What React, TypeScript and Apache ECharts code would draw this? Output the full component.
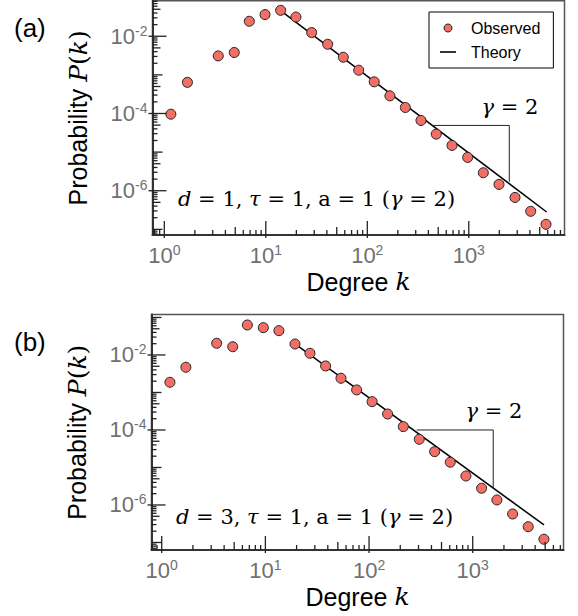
import React, { useEffect, useRef } from 'react';
import * as echarts from 'echarts';

// Panel (a): d = 1
const kA = [1.16, 1.69, 3.4, 4.89, 6.88, 9.82, 14.0, 19.8, 28.3, 40.7, 58.0, 82.3, 117, 167, 237, 338, 478, 683, 975, 1390, 1985, 2853, 4074, 5766];
const pA = [9.6e-5, 6.4e-4, 3.1e-3, 3.8e-3, 0.0244, 0.0364, 0.047, 0.0315, 0.01247, 6.2e-3, 2.86e-3, 1.32e-3, 6.6e-4, 2.86e-4, 1.43e-4, 6.6e-5, 2.92e-5, 1.49e-5, 7.3e-6, 2.92e-6, 1.46e-6, 6.7e-7, 2.93e-7, 1.35e-7];
const theoryKA = [14.0, 5850];
const theoryPA = [0.046, 2.81e-7];
const slopeKA = [447, 2506, 2506];
const slopePA = [4.91e-5, 4.91e-5, 1.71e-6];

// Panel (b): d = 3
const kB = [1.2, 1.71, 3.39, 4.84, 6.7, 9.55, 13.5, 19.3, 26.9, 38.1, 53.6, 75.9, 107, 151, 214, 305, 429, 607, 860, 1218, 1711, 2426, 3430, 4860];
const pB = [1.87e-3, 4.7e-3, 0.0205, 0.0166, 0.063, 0.0535, 0.0445, 0.0196, 0.0111, 5.1e-3, 2.39e-3, 1.17e-3, 5.7e-4, 2.67e-4, 1.23e-4, 5.65e-5, 2.64e-5, 1.38e-5, 5.93e-6, 2.79e-6, 1.36e-6, 5.75e-7, 2.64e-7, 1.22e-7];
const theoryKB = [19.3, 4870];
const theoryPB = [0.0197, 2.93e-7];
const slopeKB = [288, 1577, 1577];
const slopePB = [1.0e-4, 1.0e-4, 2.79e-6];

const xRangeA = [0.765, 8770];
const yRangeA = [7.14e-8, 0.0828];
const xRangeB = [0.797, 7510];
const yRangeB = [6.3e-8, 0.12];

const panelLabels = ['(a)', '(b)'];
const dValues = ['1', '3'];
const seriesNames = ['Observed', 'Theory'];

const SANS = 'Liberation Sans, Arial, sans-serif';
const MATH = 'DejaVu Serif, serif';
const LABEL_GRAY = '#707070';

const zip = (a: number[], b: number[]) => a.map((v, i) => [v, b[i]]);

function makeTicks(xr: number[], yr: number[]) {
  const data: number[][] = [];
  const xm = Math.sqrt(xr[0] * xr[1]);
  const ym = Math.sqrt(yr[0] * yr[1]);
  for (let e = Math.floor(Math.log10(xr[0])); e <= Math.ceil(Math.log10(xr[1])); e++) {
    for (let m = 1; m <= 9; m++) {
      const v = m * Math.pow(10, e);
      if (v <= xr[0] || v >= xr[1]) continue;
      data.push([v, ym, m === 1 ? 14 : m === 5 ? 8 : 5, m === 1 ? 3 : 0, 0]);
    }
  }
  for (let e = Math.floor(Math.log10(yr[0])); e <= Math.ceil(Math.log10(yr[1])); e++) {
    for (let m = 1; m <= 9; m++) {
      const v = m * Math.pow(10, e);
      if (v <= yr[0] || v >= yr[1]) continue;
      const major = m === 1;
      const even = Math.abs(e) % 2 === 0;
      data.push([xm, v, major ? (even ? 14 : 10) : m === 5 ? 8 : 5, major && even ? 4 : 0, 1]);
    }
  }
  return data;
}

const labelRich = {
  b: { fontSize: 22, fontFamily: SANS, color: LABEL_GRAY, lineHeight: 25 },
  s: { fontSize: 14, fontFamily: SANS, color: LABEL_GRAY, verticalAlign: 'top', lineHeight: 25, padding: [0, 0, 10, 0] },
};

function fmt(onlyEven: boolean) {
  return (v: number) => {
    const l = Math.log10(v);
    const e = Math.round(l);
    if (Math.abs(l - e) > 1e-6) return '';
    if (onlyEven && Math.abs(e) % 2 !== 0) return '';
    return `{b|10}{s|${e}}`;
  };
}

const nameRich = {
  a: { fontSize: 25, fontFamily: SANS, color: '#000' },
  i: { fontSize: 25, fontFamily: MATH, fontStyle: 'italic', color: '#000' },
  m: { fontSize: 25, fontFamily: MATH, color: '#000' },
};

function xAxisCfg(gi: number, r: number[]) {
  return {
    type: 'log', logBase: 10, gridIndex: gi, min: r[0], max: r[1],
    axisLine: { show: true, onZero: false, lineStyle: { color: '#333', width: 2 } },
    axisTick: { show: false }, splitLine: { show: false },
    axisLabel: { margin: 8, formatter: fmt(false), rich: labelRich },
    name: '{a|Degree }{i|k}', nameLocation: 'middle', nameGap: 34,
    nameTextStyle: { rich: nameRich },
  };
}

function yAxisCfg(gi: number, r: number[]) {
  return {
    type: 'log', logBase: 10, gridIndex: gi, min: r[0], max: r[1],
    axisLine: { show: true, onZero: false, lineStyle: { color: '#333', width: 2 } },
    axisTick: { show: false }, splitLine: { show: false },
    axisLabel: { margin: 5, formatter: fmt(true), rich: labelRich },
    name: '{a|Probability }{i|P}{m|(}{i|k}{m|)}', nameLocation: 'middle', nameGap: 62,
    nameTextStyle: { rich: nameRich },
  };
}

const tickRender = (params: any, api: any) => {
  const cs = params.coordSys;
  const p = api.coord([api.value(0), api.value(1)]);
  const len = api.value(2);
  const out = api.value(3);
  const dir = api.value(4);
  const style = { stroke: '#222', lineWidth: 1.3 };
  if (dir === 0) {
    const yb = cs.y + cs.height;
    return { type: 'line', shape: { x1: p[0], y1: yb + out, x2: p[0], y2: yb - len }, style };
  }
  return { type: 'line', shape: { x1: cs.x - out, y1: p[1], x2: cs.x + len, y2: p[1] }, style };
};

function panelSeries(gi: number, k: number[], p: number[], tk: number[], tp: number[], sk: number[], sp: number[], xr: number[], yr: number[]) {
  return [
    {
      type: 'line', name: seriesNames[1], xAxisIndex: gi, yAxisIndex: gi,
      data: zip(tk, tp), symbol: 'none', itemStyle: { color: '#000' },
      lineStyle: { color: '#000', width: 1.5 }, z: 2, silent: true,
    },
    {
      type: 'line', name: 'slope' + gi, xAxisIndex: gi, yAxisIndex: gi,
      data: zip(sk, sp), symbol: 'none', lineStyle: { color: '#222', width: 1 }, z: 2, silent: true,
    },
    {
      type: 'scatter', name: seriesNames[0], xAxisIndex: gi, yAxisIndex: gi,
      data: zip(k, p), symbol: 'circle', symbolSize: 10,
      itemStyle: { color: '#F26F66', borderColor: '#222', borderWidth: 1, opacity: 1 }, z: 3,
    },
    {
      type: 'custom', name: 'ticks' + gi, xAxisIndex: gi, yAxisIndex: gi,
      data: makeTicks(xr, yr), encode: { x: 0, y: 1 }, renderItem: tickRender, silent: true, z: 4,
    },
  ];
}

function annotationText(d: string) {
  return `{i|d}{r| = ${d}, }{i|τ}{r| = 1, a = 1 (}{i|γ}{r| = 2)}`;
}

const annRich = {
  i: { fontSize: 21, fontFamily: MATH, fontStyle: 'italic', fill: '#000' },
  r: { fontSize: 21, fontFamily: MATH, fill: '#000' },
};

export default function App() {
  const ref = useRef<HTMLDivElement>(null);
  useEffect(() => {
    document.body.style.margin = '0';
    const chart = echarts.init(ref.current!, null, { renderer: 'svg' });
    const option: any = {
      animation: false,
      backgroundColor: '#fff',
      grid: [
        { left: 152.5, top: 0.8, width: 412, height: 234.2, show: true, borderColor: '#555', borderWidth: 1.5, backgroundColor: 'transparent' },
        { left: 151.5, top: 314.5, width: 412, height: 235.5, show: true, borderColor: '#555', borderWidth: 1.5, backgroundColor: 'transparent' },
      ],
      xAxis: [xAxisCfg(0, xRangeA), xAxisCfg(1, xRangeB)],
      yAxis: [yAxisCfg(0, yRangeA), yAxisCfg(1, yRangeB)],
      legend: {
        data: [
          { name: seriesNames[0], icon: 'circle', itemStyle: { color: '#F26F66', borderColor: '#222', borderWidth: 1 } },
          { name: seriesNames[1], icon: 'path://M0 0H20V2H0Z', itemStyle: { color: '#000' } },
        ],
        orient: 'vertical', left: 429, top: 12,
        padding: [8, 13, 8, 11], itemGap: 8, itemWidth: 16, itemHeight: 8,
        borderColor: '#000', borderWidth: 1, backgroundColor: '#fff', borderRadius: 0,
        selectedMode: false,
        textStyle: { fontSize: 16, fontFamily: SANS, color: '#000', padding: [0, 0, 0, 10] },
      },
      series: [
        ...panelSeries(0, kA, pA, theoryKA, theoryPA, slopeKA, slopePA, xRangeA, yRangeA),
        ...panelSeries(1, kB, pB, theoryKB, theoryPB, slopeKB, slopePB, xRangeB, yRangeB),
      ],
      graphic: [
        { type: 'text', x: 14, y: 28, style: { text: panelLabels[0], fontSize: 26, fontFamily: SANS, fill: '#000', verticalAlign: 'middle' } },
        { type: 'text', x: 14, y: 342, style: { text: panelLabels[1], fontSize: 26, fontFamily: SANS, fill: '#000', verticalAlign: 'middle' } },
        { type: 'text', x: 178, y: 199, z: 10, style: { text: annotationText(dValues[0]), rich: annRich, verticalAlign: 'middle' } },
        { type: 'text', x: 176, y: 517, z: 10, style: { text: annotationText(dValues[1]), rich: annRich, verticalAlign: 'middle' } },
        { type: 'text', x: 510, y: 107, z: 10, style: { text: '{i|γ}{r| = 2}', rich: annRich, align: 'center', verticalAlign: 'middle' } },
        { type: 'text', x: 494, y: 411, z: 10, style: { text: '{i|γ}{r| = 2}', rich: annRich, align: 'center', verticalAlign: 'middle' } },
      ],
    };
    chart.setOption(option);
    return () => chart.dispose();
  }, []);
  return <div ref={ref} style={{ width: 578, height: 616, position: 'absolute', left: 0, top: 0 }} />;
}
